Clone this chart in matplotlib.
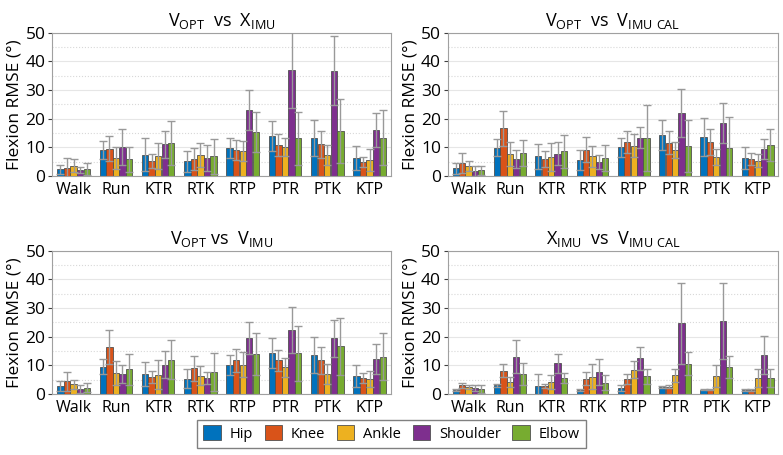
import numpy as np
import matplotlib.pyplot as plt
from matplotlib.ticker import MultipleLocator

plt.rcParams.update({'font.size': 11, 'font.family': 'Open Sans'})

tasks = ['Walk', 'Run', 'KTR', 'RTK', 'RTP', 'PTR', 'PTK', 'KTP']
joints = ['Hip', 'Knee', 'Ankle', 'Shoulder', 'Elbow']
colors = ['#0072BD', '#D95319', '#EDB120', '#7E2F8E', '#77AC30']

titles = [r'$\mathregular{V_{OPT}}$  vs  $\mathregular{X_{IMU}}$',
          r'$\mathregular{V_{OPT}}$  vs  $\mathregular{V_{IMU\ CAL}}$',
          r'$\mathregular{V_{OPT}}$ vs  $\mathregular{V_{IMU}}$',
          r'$\mathregular{X_{IMU}}$  vs  $\mathregular{V_{IMU\ CAL}}$']

# mean RMSE, rows = tasks, cols = joints (Hip, Knee, Ankle, Shoulder, Elbow)
mean_opt_x = [[2.3, 2.8, 3.6, 2.2, 2.4],
              [9.0, 9.6, 6.2, 10.2, 5.8],
              [7.4, 5.2, 7.1, 11.1, 11.6],
              [5.1, 6.0, 7.4, 6.4, 6.9],
              [9.8, 9.0, 8.9, 23.2, 15.4],
              [14.0, 10.8, 10.1, 37.1, 13.2],
              [13.3, 11.1, 7.4, 36.8, 15.7],
              [6.2, 4.8, 5.6, 16.0, 13.3]]
upper_opt_x = [[3.9, 6.4, 5.8, 3.3, 4.4],
               [12.2, 14.0, 10.0, 16.4, 10.3],
               [13.2, 7.7, 11.7, 15.9, 19.2],
               [8.8, 9.9, 11.7, 11.0, 13.0],
               [13.4, 12.5, 12.4, 30.2, 22.5],
               [19.3, 14.6, 13.3, 50.5, 22.5],
               [19.6, 15.8, 11.0, 48.7, 26.8],
               [10.4, 6.5, 9.4, 22.0, 22.9]]

mean_opt_cal = [[2.8, 4.5, 3.4, 1.7, 2.0],
                [9.9, 16.7, 7.6, 6.0, 8.0],
                [6.9, 6.0, 6.7, 7.8, 8.6],
                [5.5, 9.2, 6.9, 4.9, 6.2],
                [10.0, 12.0, 10.6, 13.4, 13.3],
                [14.4, 11.6, 9.1, 22.0, 10.4],
                [13.6, 12.0, 6.6, 18.4, 9.8],
                [6.3, 6.0, 5.4, 9.4, 10.8]]
upper_opt_cal = [[4.7, 8.0, 5.1, 3.5, 3.6],
                 [12.9, 22.8, 11.8, 9.1, 12.6],
                 [11.2, 8.7, 11.6, 11.8, 14.5],
                 [9.0, 13.5, 10.5, 7.3, 10.8],
                 [13.4, 15.9, 14.7, 17.0, 24.9],
                 [19.6, 15.6, 12.0, 30.3, 19.4],
                 [20.2, 16.6, 9.4, 25.4, 20.5],
                 [10.3, 8.0, 7.8, 12.9, 16.5]]

mean_opt_v = [[2.8, 4.5, 3.4, 1.8, 2.2],
              [9.6, 16.4, 7.3, 7.0, 8.6],
              [6.9, 6.0, 6.7, 10.3, 11.9],
              [5.4, 9.0, 6.4, 5.6, 7.7],
              [10.0, 11.7, 10.3, 19.6, 14.0],
              [14.4, 11.7, 9.3, 22.2, 14.2],
              [13.7, 11.7, 7.0, 19.5, 16.7],
              [6.3, 5.7, 5.3, 12.2, 13.0]]
upper_opt_v = [[4.6, 7.8, 5.0, 3.3, 3.7],
               [12.3, 22.2, 11.5, 10.2, 13.9],
               [11.1, 8.2, 11.8, 15.1, 18.7],
               [8.7, 13.3, 9.8, 7.8, 14.2],
               [13.5, 15.7, 14.6, 25.3, 21.2],
               [19.7, 15.5, 12.5, 30.2, 23.8],
               [19.9, 16.4, 10.4, 26.0, 26.6],
               [10.3, 7.5, 8.1, 17.4, 21.2]]

mean_x_cal = [[1.5, 3.0, 2.5, 2.0, 1.8],
              [3.0, 8.1, 4.2, 13.0, 7.0],
              [2.8, 2.8, 4.2, 10.7, 5.6],
              [1.5, 5.4, 6.1, 7.6, 4.0],
              [2.2, 5.2, 8.5, 12.4, 6.2],
              [2.5, 2.6, 6.5, 24.7, 10.6],
              [1.5, 1.5, 6.3, 25.6, 9.4],
              [1.5, 1.5, 5.6, 13.5, 5.6]]
upper_x_cal = [[1.8, 4.0, 3.3, 3.1, 3.1],
               [3.5, 10.4, 6.1, 18.7, 10.8],
               [6.9, 3.5, 6.6, 14.0, 7.5],
               [1.8, 7.7, 10.6, 12.2, 6.6],
               [3.2, 6.9, 11.5, 16.3, 8.8],
               [2.8, 3.0, 8.7, 38.8, 14.6],
               [1.7, 1.7, 10.2, 38.9, 13.2],
               [1.9, 1.9, 8.7, 20.1, 8.8]]

panels = [(mean_opt_x, upper_opt_x), (mean_opt_cal, upper_opt_cal),
          (mean_opt_v, upper_opt_v), (mean_x_cal, upper_x_cal)]

fig = plt.figure(figsize=(7.83, 4.55), dpi=100)
boxes = [[0.067, 0.613, 0.432, 0.315], [0.572, 0.613, 0.422, 0.315],
         [0.067, 0.134, 0.432, 0.315], [0.572, 0.134, 0.422, 0.315]]

x = np.arange(1, len(tasks) + 1)
bw = 0.15
for k, (mean, upper) in enumerate(panels):
    ax = fig.add_axes(boxes[k])
    m = np.array(mean)
    s = np.clip(np.array(upper) - m, 0.2, None)
    for j in range(len(joints)):
        xp = x + (j - 2) * 0.155
        ax.bar(xp, m[:, j], bw, color=colors[j], edgecolor='#505050',
               linewidth=0.6, label=joints[j], zorder=2)
        ax.errorbar(xp, m[:, j], yerr=s[:, j], fmt='none', ecolor='#999999',
                    elinewidth=1.0, capsize=3, capthick=1.0, zorder=3)
    ax.set_xlim(0.5, 8.5)
    ax.set_ylim(0, 50)
    ax.set_xticks(x)
    ax.set_xticklabels(tasks, fontsize=11.5)
    ax.yaxis.set_major_locator(MultipleLocator(10))
    ax.yaxis.set_minor_locator(MultipleLocator(5))
    ax.tick_params(axis='y', labelsize=12.5, length=3, color='#404040', pad=2)
    ax.tick_params(axis='x', length=0, pad=4)
    ax.tick_params(which='minor', length=0)
    ax.grid(which='major', axis='y', color='#e6e6e6', linewidth=0.8, zorder=0)
    ax.grid(which='minor', axis='y', color='#d8d8d8', linestyle=':',
            linewidth=0.8, zorder=0)
    ax.set_axisbelow(True)
    for sp in ax.spines.values():
        sp.set_color('#a0a0a0')
        sp.set_linewidth(0.8)
    ax.set_ylabel('Flexion RMSE (°)', fontsize=12.5, labelpad=2)
    ax.set_title(titles[k], fontsize=13, pad=5)
    if k == 0:
        handles, labels = ax.get_legend_handles_labels()

fig.legend(handles, labels, loc='lower center', ncol=5,
           bbox_to_anchor=(0.5, 0.0), fontsize=10.5, frameon=True,
           fancybox=False, edgecolor='#606060', handlelength=1.2,
           handleheight=1.2, columnspacing=0.8, handletextpad=0.6,
           borderpad=0.4)

fig.savefig('out.png', dpi=100)
